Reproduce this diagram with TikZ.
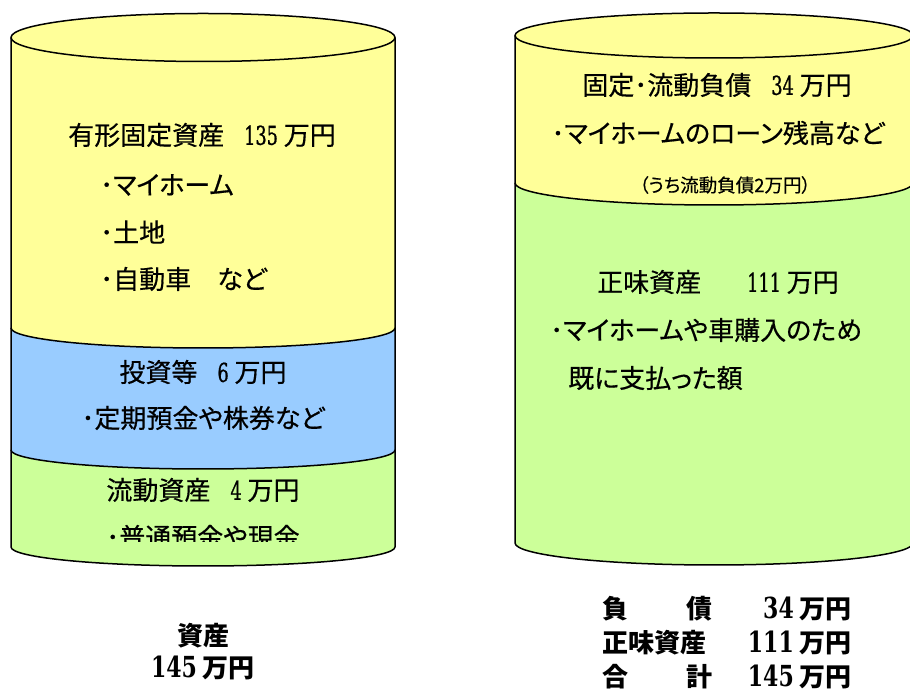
\documentclass[tikz,border=0pt]{standalone}
\usepackage{fontspec}
\newfontfamily\jp{Noto Sans CJK JP}[RawFeature=+palt, FakeBold=0.5]
\newfontfamily\jpb{Noto Sans CJK JP}
\newfontfamily\dig{DejaVu Serif}[FakeStretch=0.68, FakeBold=0.8]
\newfontfamily\digb{DejaVu Serif}[FakeStretch=0.76]
\definecolor{cylyellow}{HTML}{FFFF99}
\definecolor{cylblue}{HTML}{99CCFF}
\definecolor{cylgreen}{HTML}{CCFF99}
\newcommand\Dg[1]{{\dig\fontsize{26}{30}\selectfont #1}}
\newcommand\Db[1]{{\digb\bfseries\fontsize{29}{34}\selectfont #1}}
\newcommand\gap{\hspace{20pt}}
\tikzset{
  txt/.style={inner sep=0pt, font=\jp\fontsize{26}{30}\selectfont},
  smalltxt/.style={inner sep=0pt, font=\jp\fontsize{18.5}{22}\selectfont},
  boldtxt/.style={inner sep=0pt, font=\jpb\bfseries\fontsize{26}{30}\selectfont},
  edge/.style={line width=1.5pt, line join=round}
}
\begin{document}
\begin{tikzpicture}[x=1pt,y=1pt]
\useasboundingbox (0,0) rectangle (910,693);
% ---------- left cylinder ----------
\fill[cylgreen] (11,243) -- (11,146) arc[start angle=180,end angle=360,x radius=192,y radius=19] -- (395,243) -- cycle;
\fill[cylblue] (11,365) -- (11,243) arc[start angle=180,end angle=360,x radius=192,y radius=19] -- (395,365) -- cycle;
\fill[cylyellow] (11,655.5) -- (11,365) arc[start angle=180,end angle=360,x radius=192,y radius=20] -- (395,655.5) -- cycle;
\draw[edge] (11,243) -- (11,146) arc[start angle=180,end angle=360,x radius=192,y radius=19] -- (395,243);
\draw[edge] (11,365) -- (11,243) arc[start angle=180,end angle=360,x radius=192,y radius=19] -- (395,365);
\draw[edge] (11,655.5) -- (11,365) arc[start angle=180,end angle=360,x radius=192,y radius=20] -- (395,655.5);
\draw[edge, fill=cylyellow] (203,655.5) ellipse[x radius=192, y radius=24];
% ---------- right cylinder ----------
\fill[cylgreen] (515,510) -- (515,150) arc[start angle=180,end angle=360,x radius=199,y radius=22] -- (913,510) -- cycle;
\fill[cylyellow] (515,657.5) -- (515,510) arc[start angle=180,end angle=360,x radius=199,y radius=22] -- (913,657.5) -- cycle;
\draw[edge] (515,510) -- (515,150) arc[start angle=180,end angle=360,x radius=199,y radius=22] -- (913,510);
\draw[edge] (515,657.5) -- (515,510) arc[start angle=180,end angle=360,x radius=199,y radius=22] -- (913,657.5);
\draw[edge, fill=cylyellow] (714,657.5) ellipse[x radius=199, y radius=22.5];
% ---------- left texts ----------
\node[txt] (fixed) at (202,558) {有形固定資産\gap\Dg{135} 万円};
\node[txt, anchor=west] (home) at (100,508) {･マイホーム};
\node[txt, anchor=west] (land) at (100,461) {･土地};
\node[txt, anchor=west] (car) at (100,414) {･自動車　など};
\node[txt] (invest) at (203,321) {投資等\gap\Dg{6} 万円};
\node[txt] (investsub) at (203,275) {･定期預金や株券など};
\node[txt] (current) at (203,203) {流動資産\gap\Dg{4} 万円};
\begin{scope}
\clip (0,151) rectangle (400,300);
\node[txt] (cash) at (203,156) {･普通預金や現金};
\end{scope}
% ---------- right texts ----------
\node[txt] (debt) at (717,608) {固定･流動負債\gap\Dg{34} 万円};
\node[txt] (loan) at (718,560) {･マイホームのローン残高など};
\node[smalltxt] (curdebt) at (725,508) {（うち流動負債2万円）};
\node[txt] (equity) at (718,411) {正味資産\hspace{46pt}\Dg{111} 万円};
\node[txt, anchor=west] (paid1) at (550,363) {･マイホームや車購入のため};
\node[txt, anchor=west] (paid2) at (568,315) {既に支払った額};
% ---------- bottom summaries ----------
\node[boldtxt] (assetlabel) at (203,57) {資産};
\node[boldtxt] (assetsum) at (203,25) {\Db{145} 万円};
\node[boldtxt, anchor=west] (r1l) at (602,84) {\makebox[110pt][l]{負\hfill 債}};
\node[boldtxt, anchor=east] (r1r) at (852,84) {\Db{34} 万円};
\node[boldtxt, anchor=west] (r2l) at (602,50) {\makebox[110pt][l]{正味資産}};
\node[boldtxt, anchor=east] (r2r) at (852,50) {\Db{111} 万円};
\node[boldtxt, anchor=west] (r3l) at (602,16) {\makebox[110pt][l]{合\hfill 計}};
\node[boldtxt, anchor=east] (r3r) at (852,16) {\Db{145} 万円};
\end{tikzpicture}
\end{document}
